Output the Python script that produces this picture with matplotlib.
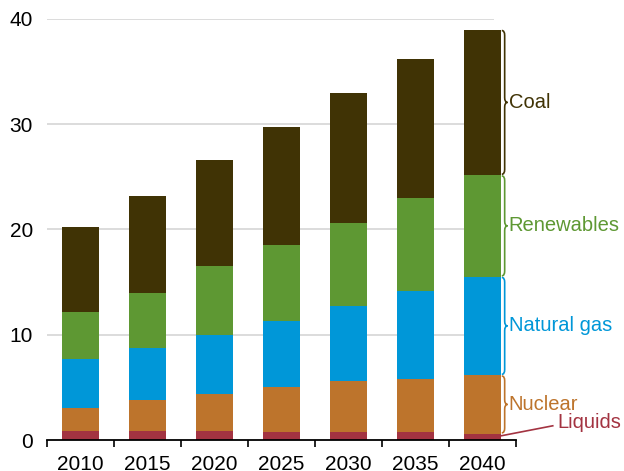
import matplotlib.pyplot as plt
import numpy as np
from matplotlib.path import Path
from matplotlib.patches import PathPatch

plt.rcParams['font.family'] = ['Liberation Sans', 'DejaVu Sans']

years = ['2010', '2015', '2020', '2025', '2030', '2035', '2040']
series = ['Liquids', 'Nuclear', 'Natural gas', 'Renewables', 'Coal']
liquids = [0.86, 0.86, 0.86, 0.73, 0.73, 0.73, 0.60]
nuclear = [2.22, 2.92, 3.52, 4.32, 4.83, 5.05, 5.56]
natural_gas = [4.57, 4.92, 5.56, 6.28, 7.14, 8.35, 9.36]
renewables = [4.54, 5.24, 6.60, 7.17, 7.90, 8.82, 9.65]
coal = [8.03, 9.26, 10.09, 11.21, 12.35, 13.21, 13.81]
colors = ['#a33341', '#bd742c', '#0097d8', '#5e9833', '#403305']


def brace(ax, x0, w, y0, y1, color):
    # vertical curly brace, tip pointing right
    ym = (y0 + y1) / 2
    r = min(0.45, (y1 - y0) / 4)
    xc = x0 + w / 2
    verts = [(x0, y0), (xc, y0), (xc, y0 + r),
             (xc, ym - r), (xc, ym), (x0 + w, ym),
             (xc, ym), (xc, ym + r),
             (xc, y1 - r), (xc, y1), (x0, y1)]
    codes = [Path.MOVETO, Path.CURVE3, Path.CURVE3,
             Path.LINETO, Path.CURVE3, Path.CURVE3,
             Path.CURVE3, Path.CURVE3,
             Path.LINETO, Path.CURVE3, Path.CURVE3]
    ax.add_patch(PathPatch(Path(verts, codes), fill=False, ec=color,
                           lw=1.2, clip_on=False))


fig = plt.figure(figsize=(6.24, 4.71), dpi=100)
ax = fig.add_axes([0.0753, 0.0658, 0.752, 0.8939])

x = np.arange(len(years))
width = 0.55
bottom = np.zeros(len(years))
data = [liquids, nuclear, natural_gas, renewables, coal]
for vals, c in zip(data, colors):
    ax.bar(x, vals, width, bottom=bottom, color=c, zorder=2)
    bottom += np.array(vals)

ax.hlines([10, 20, 30, 40], -0.5, 6.17, color='#d6d6d6', lw=1.2, zorder=1)

ax.set_xlim(-0.5, 6.5)
ax.set_ylim(0, 40)
for s in ['top', 'right', 'left']:
    ax.spines[s].set_visible(False)
ax.spines['bottom'].set_linewidth(1.3)
ax.spines['bottom'].set_zorder(3)

ax.set_xticks(x)
ax.set_xticklabels(years)
ax.set_xticks(np.arange(len(years) + 1) - 0.5, minor=True)
ax.tick_params(axis='x', which='major', length=0, pad=11, labelsize=15)
ax.tick_params(axis='x', which='minor', length=5, width=1.2, direction='out')
ax.set_yticks([0, 10, 20, 30, 40])
ax.tick_params(axis='y', length=0, pad=10, labelsize=15)

# braces and labels for the last bar
last = len(years) - 1
edge = x[last] + width / 2
cum = np.cumsum([d[last] for d in data])
lows = np.concatenate([[0], cum[:-1]])
for i in range(1, len(series)):
    lo, hi = lows[i], cum[i]
    brace(ax, edge + 0.01, 0.085, lo + 0.08, hi - 0.08, colors[i])
    ax.text(edge + 0.11, (lo + hi) / 2, series[i], color=colors[i],
            fontsize=14.5, va='center', ha='left', clip_on=False)

ax.plot([edge, edge + 0.77], [liquids[last] / 2 + 0.1, 1.35],
        color=colors[0], lw=1.2, clip_on=False)
ax.text(edge + 0.84, 1.7, series[0], color=colors[0], fontsize=14.5,
        va='center', ha='left', clip_on=False)

fig.savefig('out.png', dpi=100)
